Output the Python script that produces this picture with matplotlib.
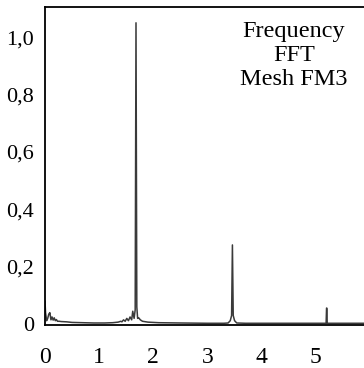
import matplotlib
matplotlib.use("Agg")
import matplotlib.pyplot as plt

plt.rcParams['font.family'] = ['Liberation Serif', 'DejaVu Serif']

freq = [0.000, 0.010, 0.030, 0.050, 0.070, 0.090, 0.110, 0.130, 0.150, 0.170,
        0.190, 0.210, 0.230, 0.260, 0.300, 0.400, 0.500, 0.700, 0.900, 1.100,
        1.250, 1.350, 1.400, 1.420, 1.450, 1.480, 1.510, 1.540, 1.570, 1.600,
        1.620, 1.645, 1.665, 1.680, 1.695, 1.710, 1.730, 1.760, 1.800, 1.900,
        2.100, 2.500, 3.000, 3.300, 3.380, 3.420, 3.445, 3.460, 3.475, 3.500,
        3.540, 3.700, 4.200, 4.800, 5.190, 5.198, 5.202, 5.210, 5.500, 6.000]
amplitude = [0.080, 0.040, 0.012, 0.020, 0.035, 0.040, 0.015, 0.025, 0.014, 0.022,
             0.012, 0.016, 0.010, 0.010, 0.009, 0.008, 0.006, 0.005, 0.004, 0.004,
             0.005, 0.007, 0.010, 0.008, 0.015, 0.010, 0.020, 0.012, 0.025, 0.015,
             0.045, 0.020, 0.050, 1.050, 0.060, 0.020, 0.022, 0.015, 0.010, 0.007,
             0.005, 0.004, 0.003, 0.003, 0.004, 0.012, 0.030, 0.276, 0.030, 0.012,
             0.004, 0.003, 0.003, 0.003, 0.003, 0.056, 0.056, 0.003, 0.003, 0.003]

xticks = [0, 1, 2, 3, 4, 5]
xticklabels = ['0', '1', '2', '3', '4', '5']
yticks = [0, 0.2, 0.4, 0.6, 0.8, 1.0]
yticklabels = ['0', '0,2', '0,4', '0,6', '0,8', '1,0']

fig = plt.figure(figsize=(3.64, 3.68), dpi=100)
ax = fig.add_axes([45/364, 43/368, 325/364, 318/368])
ax.plot(freq, amplitude, color='#3a3a3a', lw=1.1)
ax.set_xlim(0, 6)
ax.set_ylim(-0.003, 1.105)
ax.spines['right'].set_visible(False)
for s in ['left', 'bottom', 'top']:
    ax.spines[s].set_linewidth(1.3)
ax.set_xticks(xticks)
ax.set_xticklabels(xticklabels, fontsize=17)
ax.set_yticks(yticks)
ax.set_yticklabels(yticklabels, fontsize=16)
ax.tick_params(axis='x', length=0, pad=16)
ax.tick_params(axis='y', length=0, pad=8)
ax.text(294/364, 1 - 21/368, 'Frequency\nFFT\nMesh FM3', transform=fig.transFigure,
        ha='center', va='top', fontsize=17.5, linespacing=1.18)
fig.savefig('out.png', dpi=100)
